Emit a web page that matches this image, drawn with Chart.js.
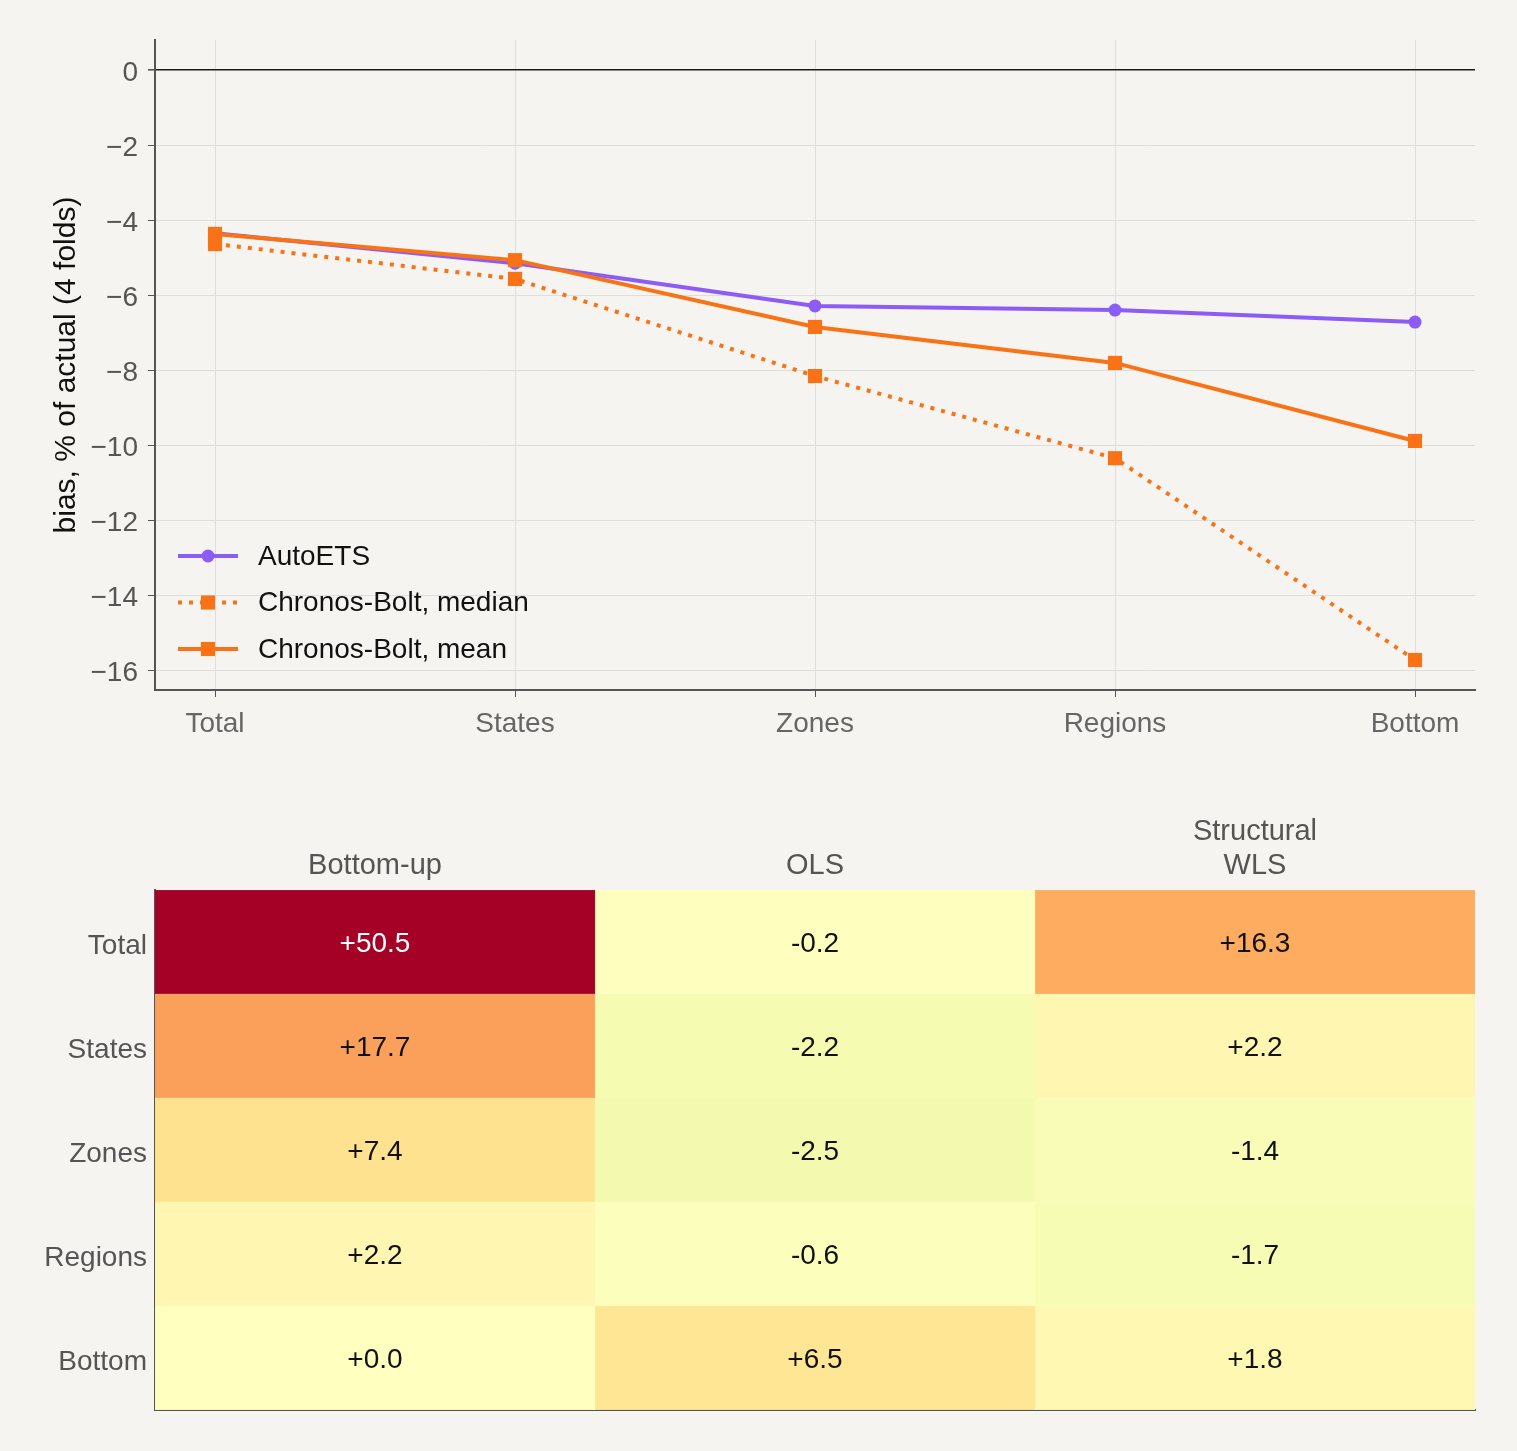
<!DOCTYPE html>
<html>
<head>
<meta charset="utf-8">
<script src="https://cdn.jsdelivr.net/npm/chart.js@4.4.1/dist/chart.umd.min.js"></script>
<style>
  html, body { margin: 0; padding: 0; background: #f5f4f0; }
  #wrap1 { position: relative; width: 1517px; height: 760px; }
  #wrap2 { position: relative; width: 1517px; height: 691px; }
</style>
</head>
<body>
<div id="wrap1"><canvas id="biasChart"></canvas></div>
<div id="wrap2"><canvas id="heatChart"></canvas></div>
<script>
// hierarchy levels (x axis of the line chart, rows of the heatmap)
var levels = ['Total', 'States', 'Zones', 'Regions', 'Bottom'];

// bias, % of actual
var autoEts = [-4.35, -5.15, -6.29, -6.40, -6.72];
var boltMedian = [-4.64, -5.57, -8.16, -10.35, -15.73];
var boltMean = [-4.37, -5.07, -6.85, -7.81, -9.89];
var yTicks = [0, -2, -4, -6, -8, -10, -12, -14, -16];

// reconciliation methods (heatmap columns)
var methods = ['Bottom-up', 'OLS', ['Structural', 'WLS']];
var bottomUp = [50.5, 17.7, 7.4, 2.2, 0.0];
var ols = [-0.2, -2.2, -2.5, -0.6, 6.5];
var wls = [16.3, 2.2, -1.4, -1.7, 1.8];

var FONT = "'Liberation Sans', Arial, Helvetica, sans-serif";
var PURPLE = '#8b5cf6';
var ORANGE = '#f97316';
Chart.defaults.font.family = FONT;

function toPoints(arr) {
    return arr.map(function (v, i) { return { x: i, y: v }; });
}

/* legend drawn inside the plot, lower left */
var insideLegend = {
    id: 'insideLegend',
    afterDraw: function (chart) {
        var ctx = chart.ctx;
        var area = chart.chartArea;
        var x0 = area.left + 23;
        var order = [2, 1, 0];
        order.forEach(function (di, row) {
            var ds = chart.data.datasets[di];
            var y = area.bottom - 134 + row * 46.5;
            ctx.save();
            ctx.strokeStyle = ds.borderColor;
            ctx.lineWidth = ds.borderWidth;
            ctx.setLineDash(ds.borderDash || []);
            ctx.beginPath();
            ctx.moveTo(x0, y);
            ctx.lineTo(x0 + 60, y);
            ctx.stroke();
            ctx.setLineDash([]);
            ctx.fillStyle = ds.pointBackgroundColor;
            Chart.helpers.drawPoint(ctx, {
                pointStyle: ds.pointStyle, radius: ds.pointRadius, borderWidth: 0, rotation: 0
            }, x0 + 30, y);
            ctx.fillStyle = '#111';
            ctx.font = '28px ' + FONT;
            ctx.textBaseline = 'middle';
            ctx.textAlign = 'left';
            ctx.fillText(ds.label, x0 + 80, y + 1);
            ctx.restore();
        });
    }
};

new Chart(document.getElementById('biasChart'), {
    type: 'line',
    data: {
        datasets: [
            {
                label: 'Chronos-Bolt, mean',
                data: toPoints(boltMean),
                borderColor: ORANGE,
                borderWidth: 4,
                pointStyle: 'rect',
                pointRadius: 10,
                pointBackgroundColor: ORANGE,
                pointBorderWidth: 0
            },
            {
                label: 'Chronos-Bolt, median',
                data: toPoints(boltMedian),
                borderColor: ORANGE,
                borderWidth: 4,
                borderDash: [4, 7],
                pointStyle: 'rect',
                pointRadius: 10,
                pointBackgroundColor: ORANGE,
                pointBorderWidth: 0
            },
            {
                label: 'AutoETS',
                data: toPoints(autoEts),
                borderColor: PURPLE,
                borderWidth: 4,
                pointStyle: 'circle',
                pointRadius: 6.5,
                pointBackgroundColor: PURPLE,
                pointBorderWidth: 0
            }
        ]
    },
    options: {
        responsive: true,
        maintainAspectRatio: false,
        animation: false,
        layout: { padding: { top: 40, right: 42, left: 0, bottom: 0 } },
        plugins: { legend: { display: false }, tooltip: { enabled: false } },
        scales: {
            x: {
                type: 'linear',
                min: -0.2,
                max: 4.2,
                afterBuildTicks: function (s) {
                    s.ticks = levels.map(function (l, i) { return { value: i }; });
                },
                afterFit: function (s) { s.height = 70; },
                ticks: {
                    callback: function (v) { return levels[v]; },
                    color: '#666', font: { size: 28 }, padding: 10,
                    autoSkip: false, maxRotation: 0
                },
                grid: { color: '#dedede', lineWidth: 1, tickColor: '#555', tickLength: 7 },
                border: { color: '#555', width: 2 }
            },
            y: {
                min: -16.53,
                max: 0.8,
                afterBuildTicks: function (s) {
                    s.ticks = yTicks.map(function (v) { return { value: v }; });
                },
                afterFit: function (s) { s.width = 155; },
                ticks: {
                    callback: function (v) { return (v < 0 ? '\u2212' : '') + Math.abs(v); },
                    color: '#555', font: { size: 28 }, padding: 10, labelOffset: 3
                },
                grid: {
                    color: function (c) { return c.tick && c.tick.value === 0 ? '#1a1a1a' : '#dedede'; },
                    lineWidth: function (c) { return c.tick && c.tick.value === 0 ? 1.6 : 1; },
                    tickColor: '#555',
                    tickLength: 7
                },
                border: { color: '#555', width: 2 },
                title: {
                    display: true,
                    text: 'bias, % of actual (4 folds)',
                    color: '#111',
                    font: { size: 30 },
                    padding: { top: 49, bottom: 0 }
                }
            }
        }
    },
    plugins: [insideLegend]
});

/* heatmap: RdYlGn reversed, centred on zero */
var rdylgn = ['#a50026', '#d73027', '#f46d43', '#fdae61', '#fee08b', '#ffffbf',
              '#d9ef8b', '#a6d96a', '#66bd63', '#1a9850', '#006837'];
var colorLimit = 40;

function hexToRgb(h) {
    return [parseInt(h.substr(1, 2), 16), parseInt(h.substr(3, 2), 16), parseInt(h.substr(5, 2), 16)];
}

function cellColor(v) {
    var t = 0.5 - v / (2 * colorLimit);
    t = Math.max(0, Math.min(1, t));
    var pos = t * (rdylgn.length - 1);
    var i = Math.min(Math.floor(pos), rdylgn.length - 2);
    var f = pos - i;
    var a = hexToRgb(rdylgn[i]), b = hexToRgb(rdylgn[i + 1]);
    var c = a.map(function (av, k) { return Math.round(av + (b[k] - av) * f); });
    return 'rgb(' + c[0] + ',' + c[1] + ',' + c[2] + ')';
}

var heatCols = [bottomUp, ols, wls];

var cellText = {
    id: 'cellText',
    afterDatasetsDraw: function (chart) {
        var ctx = chart.ctx;
        ctx.save();
        ctx.font = '28px ' + FONT;
        ctx.textAlign = 'center';
        ctx.textBaseline = 'middle';
        chart.data.datasets.forEach(function (ds, c) {
            chart.getDatasetMeta(c).data.forEach(function (bar, r) {
                var p = bar.getProps(['x', 'y', 'base'], true);
                var v = ds.cellValues[r];
                ctx.fillStyle = v > 30 ? '#ffffff' : '#111111';
                ctx.fillText((v < 0 ? '-' : '+') + Math.abs(v).toFixed(1), (p.x + p.base) / 2, p.y + 2);
            });
        });
        ctx.restore();
    }
};

new Chart(document.getElementById('heatChart'), {
    type: 'bar',
    data: {
        labels: levels,
        datasets: heatCols.map(function (vals, c) {
            return {
                label: c,
                data: vals.map(function () { return [c, c + 1]; }),
                cellValues: vals,
                backgroundColor: vals.map(cellColor),
                borderColor: vals.map(cellColor),
                borderWidth: 0.5,
                borderSkipped: false,
                barPercentage: 1,
                categoryPercentage: 1,
                grouped: false
            };
        })
    },
    options: {
        indexAxis: 'y',
        responsive: true,
        maintainAspectRatio: false,
        animation: false,
        layout: { padding: { top: 0, right: 42, left: 0, bottom: 0 } },
        plugins: { legend: { display: false }, tooltip: { enabled: false } },
        scales: {
            y: {
                type: 'category',
                afterFit: function (s) { s.width = 155; },
                ticks: { color: '#555', font: { size: 28 }, padding: 8, labelOffset: 4 },
                grid: { display: false, drawTicks: false },
                border: { display: true, color: '#555', width: 2 }
            },
            x: {
                type: 'linear',
                position: 'top',
                min: 0,
                max: 3,
                afterBuildTicks: function (s) {
                    s.ticks = methods.map(function (m, i) { return { value: i + 0.5 }; });
                },
                afterFit: function (s) { s.height = 130; },
                ticks: {
                    callback: function (v, i) { return methods[i]; },
                    color: '#555', font: { size: 29, lineHeight: 1.18 }, padding: 7,
                    autoSkip: false, maxRotation: 0
                },
                grid: { display: false, drawTicks: false },
                border: { display: false }
            },
            x2: {
                type: 'linear',
                position: 'bottom',
                min: 0,
                max: 3,
                afterFit: function (s) { s.height = 41; },
                ticks: { display: false },
                grid: { display: false, drawTicks: false },
                border: { display: true, color: '#555', width: 2 }
            }
        }
    },
    plugins: [cellText]
});
</script>
</body>
</html>
